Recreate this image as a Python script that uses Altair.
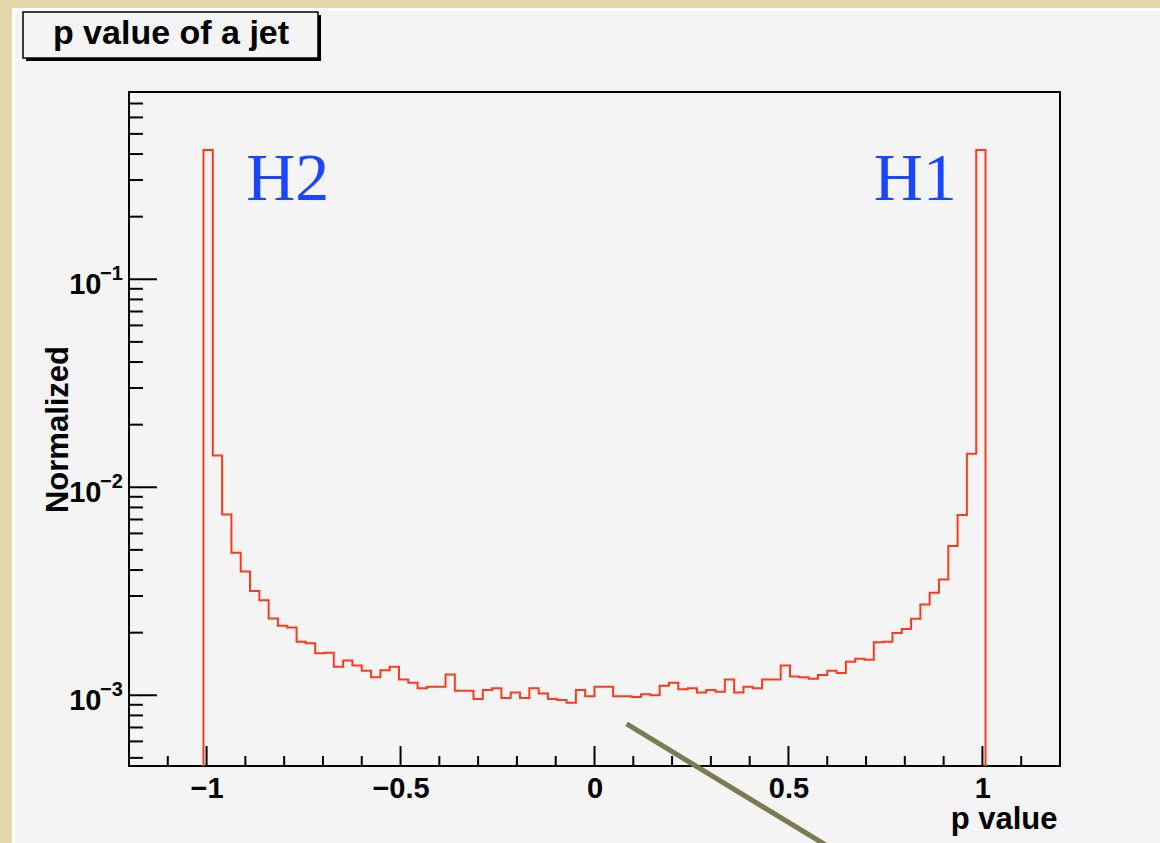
import altair as alt
import pandas as pd

# ---------------- data ----------------
# histogram binning (100 bins on [-1.2, 1.2]); filled bins start at index 8
BIN_LO, BIN_HI, N_BINS = -1.2, 1.2, 100
FIRST_FILLED_BIN = 8
bin_values = [
    0.418, 0.0142, 0.0074, 0.00485, 0.00394, 0.00317, 0.00286, 0.00234, 0.00216, 0.00212,
    0.00181, 0.00178, 0.00159, 0.00160, 0.00137, 0.00147, 0.00139, 0.00131, 0.00122, 0.00132,
    0.00137, 0.00119, 0.00115, 0.00108, 0.00110, 0.00110, 0.00126, 0.00105, 0.00105, 0.00096,
    0.00106, 0.00108, 0.00097, 0.00103, 0.00097, 0.00108, 0.00102, 0.00096, 0.00095, 0.00092,
    0.00106, 0.00099, 0.00110, 0.00110, 0.00099, 0.00099, 0.00098, 0.00101, 0.00100, 0.00111,
    0.00115, 0.00107, 0.00108, 0.00103, 0.00106, 0.00104, 0.00119, 0.00103, 0.00110, 0.00108,
    0.00119, 0.00119, 0.00139, 0.00123, 0.00122, 0.00120, 0.00125, 0.00131, 0.00128, 0.00145,
    0.00150, 0.00148, 0.00180, 0.00181, 0.00199, 0.00208, 0.00233, 0.00273, 0.00311, 0.00360,
    0.00522, 0.00736, 0.0145, 0.418,
]

X_MIN, X_MAX = -1.2, 1.2
Y_MIN, Y_MAX = 4.57e-4, 0.795

x_major = [-1, -0.5, 0, 0.5, 1]
x_minor = [-1.1, -0.9, -0.8, -0.7, -0.6, -0.4, -0.3, -0.2, -0.1,
           0.1, 0.2, 0.3, 0.4, 0.6, 0.7, 0.8, 0.9, 1.1]
y_major = [1e-3, 1e-2, 1e-1]
y_major_exp = ["\u22123", "\u22122", "\u22121"]
y_minor = [5e-4, 6e-4, 7e-4, 8e-4, 9e-4,
           2e-3, 3e-3, 4e-3, 5e-3, 6e-3, 7e-3, 8e-3, 9e-3,
           2e-2, 3e-2, 4e-2, 5e-2, 6e-2, 7e-2, 8e-2, 9e-2,
           0.2, 0.3, 0.4, 0.5, 0.6, 0.7]

label_text = ["H2", "H1"]
label_x = [-0.898, 0.7197]
label_y = [0.2405, 0.2405]

arrow_x = [0.0829, 0.618]
arrow_y = [7.28e-4, 1.80e-4]

TITLE = "p value of a jet"
X_TITLE = "p value"
Y_TITLE = "Normalized"

# ---------------- build tables ----------------
w = (BIN_HI - BIN_LO) / N_BINS
n_filled = len(bin_values)
rows = []
i = 0
# outline starts at the frame floor at the left edge of the first filled bin
rows.append({"i": i, "x": BIN_LO + FIRST_FILLED_BIN * w, "y": Y_MIN}); i += 1
for j, v in enumerate(bin_values):
    k = FIRST_FILLED_BIN + j
    rows.append({"i": i, "x": BIN_LO + k * w, "y": v}); i += 1
    rows.append({"i": i, "x": BIN_LO + (k + 1) * w, "y": v}); i += 1
rows.append({"i": i, "x": BIN_LO + (FIRST_FILLED_BIN + n_filled) * w, "y": Y_MIN})
df_hist = pd.DataFrame(rows)

W, H = 931, 674
PAD_L, PAD_T, PAD_R, PAD_B = 129, 92, 100, 77
SANS = "Liberation Sans"
SERIF = "Liberation Serif"
RED = "#ff3b1f"
BG = "#f4f4f4"
BEIGE = "#e4d6ab"

xs = alt.Scale(domain=[X_MIN, X_MAX], nice=False, zero=False)
ys = alt.Scale(type="log", domain=[Y_MIN, Y_MAX], nice=False)

one = pd.DataFrame({"a": [0]})

hist = alt.Chart(df_hist).mark_line(color=RED, strokeWidth=2).encode(
    x=alt.X("x:Q", scale=xs, axis=alt.Axis(
        values=x_major, format="~g", ticks=False, tickSize=0, domain=False, grid=False,
        labelFont=SANS, labelFontSize=29, labelFontWeight="bold", labelColor="black",
        labelPadding=31, labelBaseline="alphabetic", labelOverlap=False, labelFlush=False,
        title=X_TITLE, titleFont=SANS, titleFontSize=31, titleFontWeight="bold",
        titleColor="black", titleX=928, titleY=62, titleAlign="right",
        titleBaseline="alphabetic", titleAngle=0, zindex=1)),
    y=alt.Y("y:Q", scale=ys, axis=alt.Axis(
        values=y_major, labelExpr="'10'", ticks=False, tickSize=0, domain=False, grid=False,
        labelFont=SANS, labelFontSize=29, labelFontWeight="bold", labelColor="black",
        labelPadding=28, labelBaseline="alphabetic", labelOffset=14, labelOverlap=False,
        labelFlush=False, labelAlign="right",
        title=Y_TITLE, titleFont=SANS, titleFontSize=31, titleFontWeight="bold",
        titleColor="black", titleX=-62, titleY=337, titleAngle=270, titleAlign="center",
        titleBaseline="alphabetic", zindex=1)),
    order="i:Q",
)

# inward ticks
df_ymaj = pd.DataFrame({"v": y_major, "e": y_major_exp})
df_ymin = pd.DataFrame({"v": y_minor})
df_xmaj = pd.DataFrame({"v": x_major})
df_xmin = pd.DataFrame({"v": x_minor})

ytick_major = alt.Chart(df_ymaj).mark_rule(color="black", strokeWidth=2).encode(
    y=alt.Y("v:Q", scale=ys), x=alt.value(0), x2=alt.value(28))
ytick_minor = alt.Chart(df_ymin).mark_rule(color="black", strokeWidth=2).encode(
    y=alt.Y("v:Q", scale=ys), x=alt.value(0), x2=alt.value(14))
xtick_major = alt.Chart(df_xmaj).mark_rule(color="black", strokeWidth=2).encode(
    x=alt.X("v:Q", scale=xs), y=alt.value(H), y2=alt.value(H - 20))
xtick_minor = alt.Chart(df_xmin).mark_rule(color="black", strokeWidth=2).encode(
    x=alt.X("v:Q", scale=xs), y=alt.value(H), y2=alt.value(H - 10))

exp_text = alt.Chart(df_ymaj).mark_text(
    align="left", baseline="alphabetic", font=SANS, fontSize=20, fontWeight="bold",
    color="black", dy=1).encode(
    y=alt.Y("v:Q", scale=ys), x=alt.value(-29), text="e:N")

# H1 / H2 labels
df_lab = pd.DataFrame({"t": label_text, "x": label_x, "y": label_y})
hlabels = alt.Chart(df_lab).mark_text(
    align="left", baseline="alphabetic", font=SERIF, fontSize=68, color="#1a46ff").encode(
    x=alt.X("x:Q", scale=xs), y=alt.Y("y:Q", scale=ys), text="t:N")

# olive annotation stroke
df_arrow = pd.DataFrame({"x1": [arrow_x[0]], "x2": [arrow_x[1]],
                         "y1": [arrow_y[0]], "y2": [arrow_y[1]]})
arrow = alt.Chart(df_arrow).mark_rule(color="#7b7a52", strokeWidth=5).encode(
    x=alt.X("x1:Q", scale=xs), x2="x2:Q",
    y=alt.Y("y1:Q", scale=ys), y2="y2:Q")

# page decoration: beige strips and white canvas edges
beige_left = alt.Chart(one).mark_rect(color=BEIGE).encode(
    x=alt.value(-PAD_L), x2=alt.value(12 - PAD_L), y=alt.value(-PAD_T), y2=alt.value(H + PAD_B))
beige_top = alt.Chart(one).mark_rect(color=BEIGE).encode(
    x=alt.value(-PAD_L), x2=alt.value(W + PAD_R), y=alt.value(-PAD_T), y2=alt.value(8 - PAD_T))
white_left = alt.Chart(one).mark_rect(color="white").encode(
    x=alt.value(12 - PAD_L), x2=alt.value(15 - PAD_L), y=alt.value(8 - PAD_T), y2=alt.value(H + PAD_B))
white_top = alt.Chart(one).mark_rect(color="white").encode(
    x=alt.value(12 - PAD_L), x2=alt.value(W + PAD_R), y=alt.value(8 - PAD_T), y2=alt.value(11 - PAD_T))

# title box
shadow = alt.Chart(one).mark_rect(color="black").encode(
    x=alt.value(26 - PAD_L), x2=alt.value(321 - PAD_L), y=alt.value(15 - PAD_T), y2=alt.value(61 - PAD_T))
box = alt.Chart(one).mark_rect(fill=BG, stroke="black", strokeWidth=1.5).encode(
    x=alt.value(23 - PAD_L), x2=alt.value(318 - PAD_L), y=alt.value(12 - PAD_T), y2=alt.value(58 - PAD_T))
title_text = alt.Chart(one).mark_text(
    align="center", baseline="alphabetic", font=SANS, fontSize=34, fontWeight="bold",
    color="black", text=TITLE).encode(x=alt.value(171 - PAD_L), y=alt.value(43.5 - PAD_T))

chart = alt.layer(
    hist, beige_left, beige_top, white_left, white_top, shadow, box, title_text,
    ytick_major, ytick_minor, xtick_major, xtick_minor, exp_text, hlabels, arrow,
).properties(
    width=W, height=H, background=BG,
    padding={"left": PAD_L, "top": PAD_T, "right": PAD_R, "bottom": PAD_B},
    autosize=alt.AutoSizeParams(type="none"),
).configure_view(stroke="black", strokeWidth=2)

chart.save("out.html", embed_options={"renderer": "svg", "actions": False})
